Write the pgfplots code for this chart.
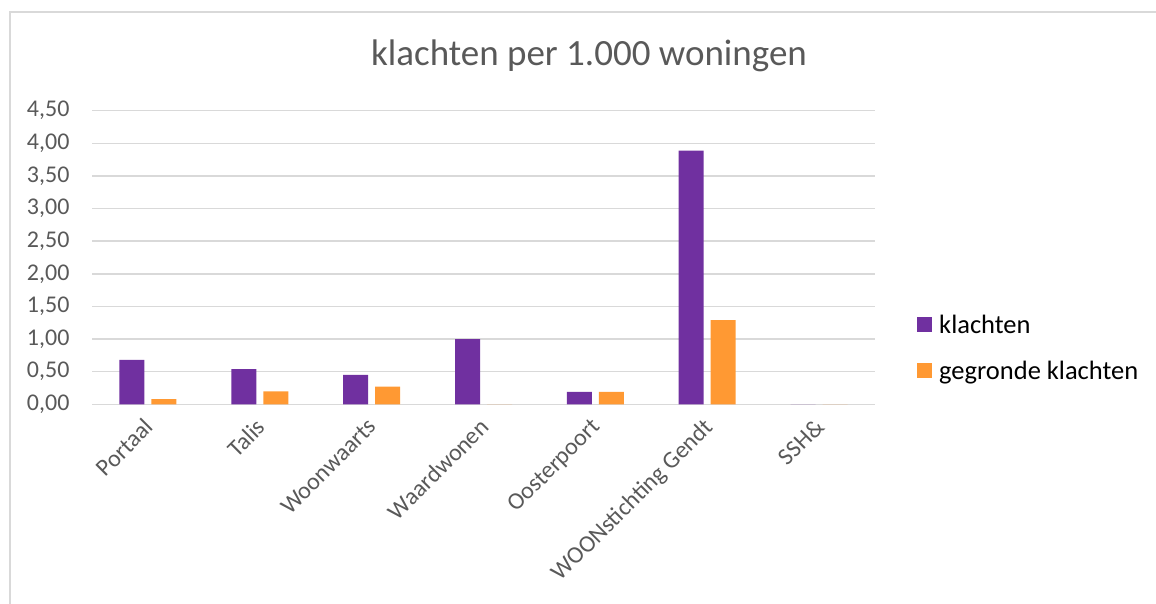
\documentclass[border=0pt]{standalone}
\usepackage{fontspec}
\setmainfont{Carlito}
\usepackage{pgfplots}
\pgfplotsset{compat=1.18}
\definecolor{kpurple}{HTML}{7030A0}
\definecolor{korange}{HTML}{FF9933}
\definecolor{gridgray}{HTML}{D9D9D9}
\definecolor{txtgray}{HTML}{595959}
\begin{document}
\begin{tikzpicture}[x=1pt,y=1pt]
\useasboundingbox (0,0) rectangle (1156,-604);
\draw[gridgray, line width=1.2pt] (10,-604) -- (10,-12) -- (1156,-12);
\node[txtgray, font=\fontsize{37}{44}\selectfont] at (589,-56) {klachten per 1.000 woningen};
\begin{axis}[
  at={(92pt,-404.3pt)}, anchor=south west,
  scale only axis, width=783pt, height=293.6pt,
  xmin=-0.5, xmax=6.5, ymin=0, ymax=4.5,
  ytick={0,0.5,1,1.5,2,2.5,3,3.5,4,4.5},
  xtick={0,1,2,3,4,5,6},
  xticklabels={Portaal,Talis,Woonwaarts,Waardwonen,Oosterpoort,WOONstichting Gendt,SSH\&},
  axis line style={draw=none},
  major tick length=0pt,
  ymajorgrids, grid style={gridgray, line width=1.5pt},
  tick label style={txtgray, font=\fontsize{24}{29}\selectfont},
  /pgf/number format/assume math mode=true,
  yticklabel style={/pgf/number format/fixed, /pgf/number format/fixed zerofill, /pgf/number format/precision=2, /pgf/number format/use comma, xshift=-19pt},
  ytick style={draw=none}, xtick style={draw=none},
  xticklabel style={xshift=-5pt, yshift=-11pt, rotate=45, anchor=north east, inner sep=1pt},
  ybar=7pt, bar width=25pt,
  legend style={at={(1,0.193)}, anchor=west, xshift=42pt, draw=none, fill=none, font=\fontsize{26.5}{31}\selectfont, text=black, row sep=22pt, inner sep=0pt},
  legend cell align=left,
  legend image code/.code={\fill[#1] (0pt,-7.5pt) rectangle (15pt,7.5pt); \path (20pt,0pt);},
]
\addplot[fill=kpurple, draw=none] coordinates {(0,0.68) (1,0.54) (2,0.45) (3,1.00) (4,0.19) (5,3.89) (6,0)};
\addplot[fill=korange, draw=none] coordinates {(0,0.08) (1,0.20) (2,0.27) (3,0) (4,0.19) (5,1.29) (6,0)};
\legend{klachten, gegronde klachten}
\end{axis}
\end{tikzpicture}
\end{document}
